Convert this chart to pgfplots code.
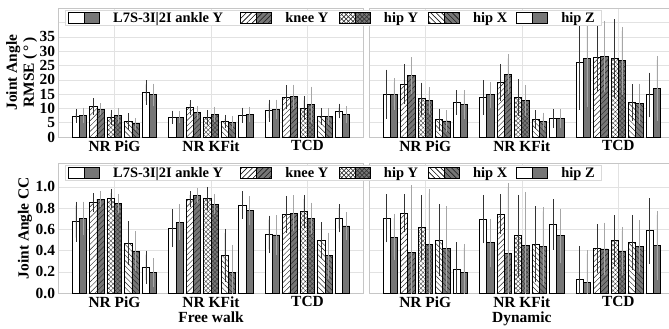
\documentclass[border=0pt]{standalone}
\usepackage{fontspec}
\setmainfont{Liberation Serif}
\usepackage{pgfplots}
\pgfplotsset{compat=1.18}
\usepackage{pgfplotstable}
\usetikzlibrary{patterns,patterns.meta}

\definecolor{bargray}{RGB}{118,118,118}
\definecolor{gridc}{RGB}{226,226,226}

% columns: a=ankle Y, k=knee Y, y=hip Y, h=hip X, z=hip Z ; 3 = L7S-3I, 2 = L7S-2I ; e = error
\pgfplotstableread{
x a3 a3e a2 a2e k3 k3e k2 k2e y3 y3e y2 y2e h3 h3e h2 h2e z3 z3e z2 z2e
0 7.3 1.0 7.6 1.3 10.6 1.5 9.7 0.7 6.9 1.3 7.5 1.1 5.4 1.5 4.6 0.7 15.5 2.9 14.7 2.6
1 6.9 0.9 6.9 0.7 10.3 1.2 8.6 0.8 6.9 1.2 7.9 1.3 5.4 0.9 5.0 0.9 7.6 1.3 7.9 1.3
2 9.2 2.5 9.7 2.0 13.9 2.8 14.0 2.9 10.0 2.8 11.2 5.0 7.1 1.5 7.1 1.5 9.1 1.2 7.9 1.5
}\rmseFW
\pgfplotstableread{
x a3 a3e a2 a2e k3 k3e k2 k2e y3 y3e y2 y2e h3 h3e h2 h2e z3 z3e z2 z2e
0 15.0 7.2 15.0 4.1 18.5 5.5 21.5 4.9 13.3 4.3 12.7 3.3 6.0 2.5 5.6 2.3 12.0 2.9 11.3 3.6
1 13.8 4.6 14.7 3.2 19.0 5.0 22.0 5.5 13.8 5.0 12.8 3.9 6.0 1.9 5.5 1.6 6.4 1.9 6.5 1.8
2 25.9 15.0 27.4 15.4 27.9 10.5 28.3 11.0 27.4 12.3 26.6 10.5 12.0 5.0 11.7 5.6 14.7 6.4 17.0 10.0
}\rmseDY
\pgfplotstableread{
x a3 a3e a2 a2e k3 k3e k2 k2e y3 y3e y2 y2e h3 h3e h2 h2e z3 z3e z2 z2e
0 0.673 0.15 0.705 0.12 0.852 0.05 0.884 0.04 0.893 0.05 0.846 0.05 0.469 0.17 0.393 0.15 0.242 0.12 0.192 0.10
1 0.610 0.14 0.667 0.13 0.884 0.04 0.918 0.03 0.893 0.07 0.837 0.055 0.356 0.21 0.195 0.22 0.830 0.09 0.776 0.10
2 0.553 0.14 0.547 0.15 0.742 0.135 0.752 0.13 0.767 0.12 0.705 0.11 0.498 0.13 0.352 0.18 0.705 0.095 0.632 0.09
}\ccFW
\pgfplotstableread{
x a3 a3e a2 a2e k3 k3e k2 k2e y3 y3e y2 y2e h3 h3e h2 h2e z3 z3e z2 z2e
0 0.705 0.19 0.525 0.18 0.752 0.14 0.380 0.60 0.616 0.27 0.459 0.48 0.497 0.30 0.421 0.36 0.223 0.22 0.195 0.23
1 0.698 0.19 0.474 0.19 0.742 0.15 0.371 0.63 0.538 0.35 0.446 0.47 0.459 0.32 0.440 0.33 0.644 0.20 0.538 0.22
2 0.126 0.28 0.097 0.27 0.421 0.19 0.415 0.21 0.497 0.20 0.396 0.19 0.478 0.22 0.443 0.21 0.585 0.27 0.446 0.29
}\ccDY

\tikzset{
  pk/.style={postaction={pattern={Lines[angle=45,distance=3.8bp,line width=0.45bp]},pattern color=black!85}},
  py/.style={postaction={pattern={Hatch[angle=45,distance=3.2bp,line width=0.35bp]},pattern color=black!80}},
  ph/.style={postaction={pattern={Lines[angle=-45,distance=3.8bp,line width=0.45bp]},pattern color=black!85}},
  pn/.style={},
}
\newcommand\legimg[1]{%
  \draw[fill=white,draw=black,line width=0.9bp,#1] (0bp,-5.4bp) rectangle (15.5bp,5.4bp);
  \draw[fill=bargray,draw=black,line width=0.9bp,#1] (15.5bp,-5.4bp) rectangle (31bp,5.4bp);}

\pgfplotsset{
  b3/.style={fill=white,draw=black,line width=0.95bp,
    error bars/error bar style={black!80,line width=0.7bp}},
  b2/.style={fill=bargray,draw=black,line width=0.95bp,forget plot,
    error bars/error bar style={black!35,line width=0.7bp}},
  panel/.style={
    scale only axis, width=305bp, xmin=-0.58, xmax=2.58, ymin=0,
    ybar, bar width=0.0746,
    xtick={0,1,2}, xticklabels={NR PiG,NR KFit,TCD},
    major tick length=0pt,
    xmajorgrids, ymajorgrids, grid style={gridc,line width=0.5bp},
    axis line style={gray!45,line width=0.6bp},
    tick label style={font=\fontsize{15.5}{17}\selectfont\bfseries},
    label style={font=\fontsize{15.5}{17}\selectfont\bfseries},
    /pgf/number format/assume math mode=true,
    error bars/y dir=both, error bars/y explicit,
    error bars/error mark options={mark size=4bp,line width=0.7bp},
  },
  toprow/.style={height=128.7bp, ymax=45, ytick={0,5,...,35},
    extra y ticks={40}, extra y tick labels={}, extra y tick style={ymajorgrids}},
  botrow/.style={height=129.7bp, ymax=1.223, ytick={0,0.2,0.4,0.6,0.8,1.0},
    yticklabel style={/pgf/number format/.cd,fixed,fixed zerofill,precision=1}},
  leg/.style={legend columns=5,
    legend entries={\makebox[127.3bp][l]{L7S-3I|2I ankle Y},\makebox[53.7bp][l]{knee Y},\makebox[44.3bp][l]{hip Y},\makebox[43.3bp][l]{hip X},\makebox[37bp][l]{hip Z}},
    legend style={at={(axis description cs:0.0213,0.99)},anchor=north west,
      draw=gray!30,fill=white,line width=0.6bp,inner xsep=3bp,inner ysep=2bp,
      column sep=0pt,
      nodes={inner sep=0pt,font=\fontsize{14.5}{16}\selectfont\bfseries},
      /tikz/every odd column/.style={column sep=13bp}},
    legend cell align=left},
}

\newcommand\bars[1]{%
  \addplot[b3,bar shift=-0.3999,legend image code/.code={\legimg{pn}}] table[x=x,y=a3,y error=a3e]{#1};
  \addplot[b2,bar shift=-0.3253] table[x=x,y=a2,y error=a2e]{#1};
  \addplot[b3,pk,bar shift=-0.2186,legend image code/.code={\legimg{pk}}] table[x=x,y=k3,y error=k3e]{#1};
  \addplot[b2,pk,bar shift=-0.1440] table[x=x,y=k2,y error=k2e]{#1};
  \addplot[b3,py,bar shift=-0.0373,legend image code/.code={\legimg{py}}] table[x=x,y=y3,y error=y3e]{#1};
  \addplot[b2,py,bar shift=0.0373] table[x=x,y=y2,y error=y2e]{#1};
  \addplot[b3,ph,bar shift=0.1440,legend image code/.code={\legimg{ph}}] table[x=x,y=h3,y error=h3e]{#1};
  \addplot[b2,ph,bar shift=0.2186] table[x=x,y=h2,y error=h2e]{#1};
  \addplot[b3,bar shift=0.3253,legend image code/.code={\legimg{pn}}] table[x=x,y=z3,y error=z3e]{#1};
  \addplot[b2,bar shift=0.3999] table[x=x,y=z2,y error=z2e]{#1};
}

\begin{document}
\begin{tikzpicture}
% right column first, so that the legends of the left column lie over it
\begin{axis}[panel,toprow,at={(369.3bp,-137bp)},anchor=south west,yticklabels={},extra y tick labels={}]
  \bars{\rmseDY}
\end{axis}
\begin{axis}[panel,botrow,at={(369.3bp,-293bp)},anchor=south west,yticklabels={},
  xlabel={Dynamic},xlabel style={yshift=2bp}]
  \bars{\ccDY}
\end{axis}
\begin{axis}[panel,toprow,leg,at={(58.5bp,-137bp)},anchor=south west,
  ylabel={Joint Angle\\RMSE (\,°\,)},
  ylabel style={at={(axis description cs:-0.121,0.5)},anchor=center,align=center}]
  \bars{\rmseFW}
\end{axis}
\begin{axis}[panel,botrow,leg,at={(58.5bp,-293bp)},anchor=south west,
  ylabel={Joint Angle CC},
  ylabel style={at={(axis description cs:-0.110,0.5)},anchor=center},
  xlabel={Free walk},xlabel style={yshift=2bp}]
  \bars{\ccFW}
\end{axis}
\pgfresetboundingbox
\path[use as bounding box] (0bp,0bp) rectangle (669bp,-329bp);
\end{tikzpicture}
\end{document}
